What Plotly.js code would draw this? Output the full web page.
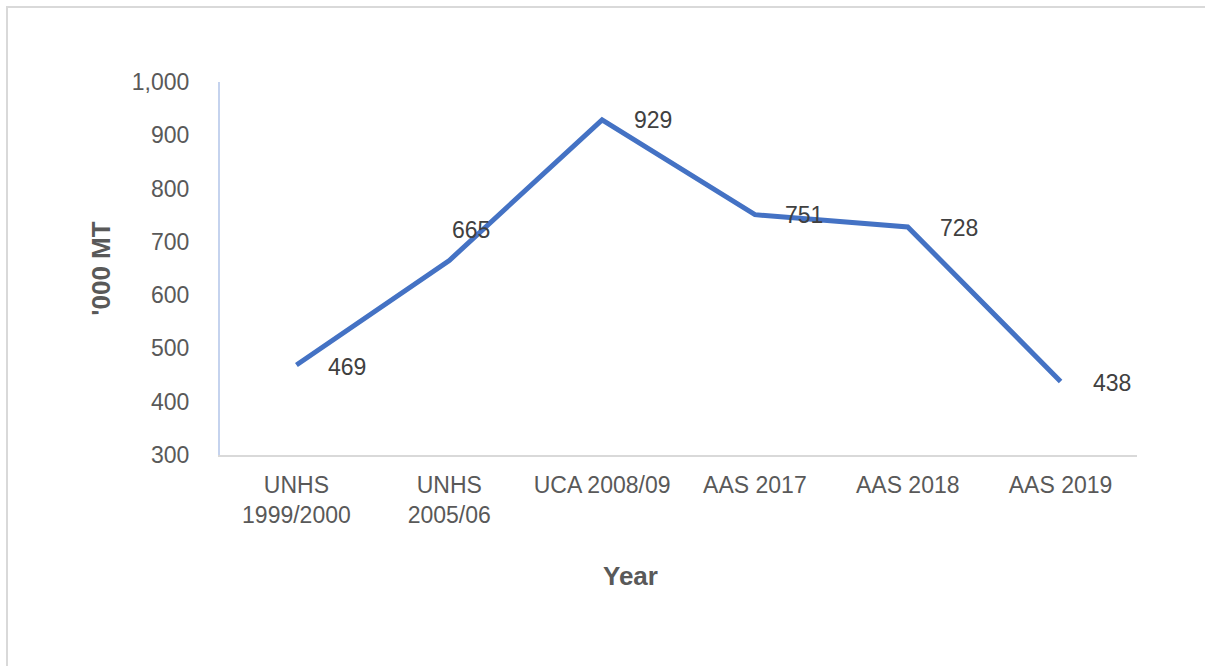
<!DOCTYPE html>
<html>
<head>
<meta charset="utf-8">
<script src="https://cdn.plot.ly/plotly-3.0.1.min.js"></script>
<style>
  html, body { margin: 0; padding: 0; background: #ffffff; overflow: hidden; }
  #wrap { position: relative; width: 1205px; height: 666px; overflow: hidden; }
  #chart { position: absolute; left: 0; top: 0; width: 1205px; height: 666px; }
  #frameTop { position: absolute; left: 6px; top: 6px; width: 1199px; height: 2px; background: #d9d9d9; pointer-events: none; }
  #frameLeft { position: absolute; left: 6px; top: 6px; width: 2px; height: 660px; background: #d9d9d9; pointer-events: none; }
</style>
</head>
<body>
<div id="wrap">
  <div id="chart"></div>
  <div id="frameTop"></div>
  <div id="frameLeft"></div>
</div>
<script>
// Data
const categories = ["UNHS<br>1999/2000", "UNHS<br>2005/06", "UCA 2008/09", "AAS 2017", "AAS 2018", "AAS 2019"];
const values = [469, 665, 929, 751, 728, 438];
const yTickVals = [300, 400, 500, 600, 700, 800, 900, 1000];

// Label placement (style only)
const labelXShift = [30, 1, 30, 28, 30, 30];
const labelYShift = [-2, 31, 0, 0, -1, -2];

const trace = {
  type: 'scatter',
  mode: 'lines',
  x: categories,
  y: values,
  line: { color: '#4472C4', width: 5, shape: 'linear' },
  hoverinfo: 'skip',
  showlegend: false
};

const annotations = values.map((v, i) => ({
  x: categories[i], y: v, xref: 'x', yref: 'y',
  text: String(v), showarrow: false,
  xanchor: 'left', yanchor: 'middle',
  xshift: labelXShift[i], yshift: labelYShift[i],
  font: { family: 'Liberation Sans, Arial, sans-serif', size: 23, color: '#404040' }
}));

annotations.push({
  text: '<b>Year</b>', xref: 'paper', yref: 'paper',
  x: (630 - 220) / (1137 - 220), y: -(576 - 455) / (455 - 82),
  xanchor: 'center', yanchor: 'middle', showarrow: false,
  font: { family: 'Liberation Sans, Arial, sans-serif', size: 26, color: '#595959' }
});

const layout = {
  width: 1205, height: 666,
  margin: { l: 220, r: 68, t: 82, b: 211 },
  paper_bgcolor: 'rgba(0,0,0,0)',
  plot_bgcolor: '#ffffff',
  font: { family: 'Liberation Sans, Arial, sans-serif', size: 23, color: '#595959' },
  xaxis: {
    type: 'category',
    range: [-0.5, categories.length - 0.5],
    showgrid: false, zeroline: false,
    showline: true, linecolor: '#d9d9d9', linewidth: 2,
    ticks: '', ticklabelstandoff: 8,
    tickfont: { size: 23, color: '#595959' },
    fixedrange: true
  },
  yaxis: {
    range: [300, 1000],
    tickvals: yTickVals,
    tickformat: ',d',
    showgrid: false, zeroline: false,
    showline: true, linecolor: '#c5d3ee', linewidth: 2,
    ticks: '', ticklabelstandoff: 24,
    tickfont: { size: 23, color: '#595959' },
    title: { text: "<b>'000 MT</b>", standoff: 14,
             font: { family: 'Liberation Sans, Arial, sans-serif', size: 26, color: '#595959' } },
    fixedrange: true
  },
  annotations: annotations,
  showlegend: false
};

Plotly.newPlot('chart', [trace], layout, { displayModeBar: false, staticPlot: true });
</script>
</body>
</html>
